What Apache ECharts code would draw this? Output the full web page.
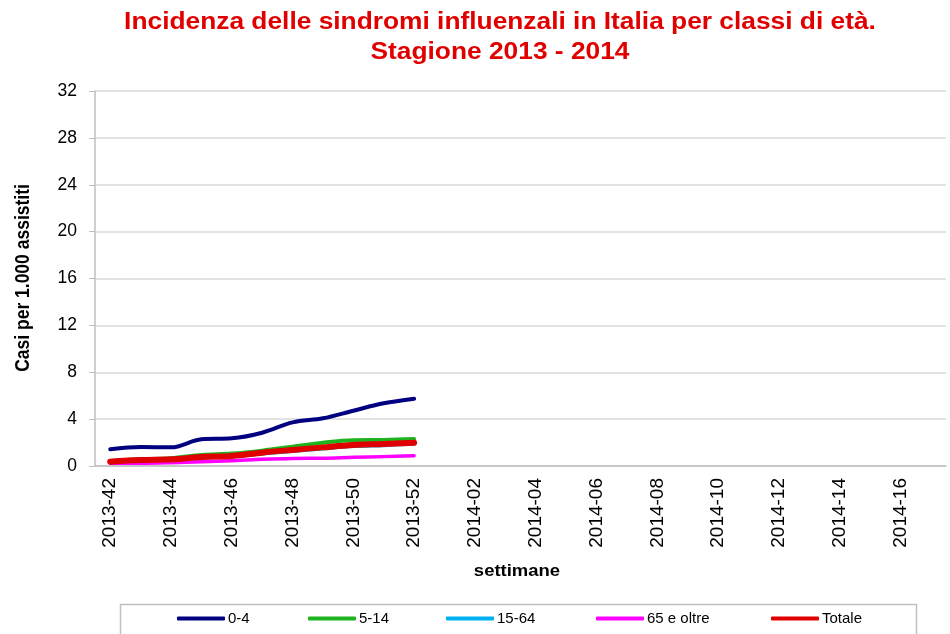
<!DOCTYPE html>
<html><head><meta charset="utf-8">
<script src="https://cdn.jsdelivr.net/npm/echarts@6/dist/echarts.min.js"></script>
<style>html,body{margin:0;padding:0;background:#fff}#c{width:950px;height:634px}</style>
</head><body><div id="c"></div>
<script>
var weeks = ['2013-42','2013-43','2013-44','2013-45','2013-46','2013-47','2013-48','2013-49','2013-50','2013-51','2013-52',
  '2014-01','2014-02','2014-03','2014-04','2014-05','2014-06','2014-07','2014-08','2014-09','2014-10',
  '2014-11','2014-12','2014-13','2014-14','2014-15','2014-16','2014-17'];
var s0_4 = [1.42, 1.62, 1.59, 2.28, 2.36, 2.84, 3.72, 4.07, 4.72, 5.35, 5.74];
var s5_14 = [0.43, 0.57, 0.66, 0.94, 1.06, 1.31, 1.65, 1.99, 2.20, 2.22, 2.30];
var s15_64 = [0.34, 0.47, 0.53, 0.70, 0.80, 1.06, 1.28, 1.50, 1.70, 1.78, 1.90];
var s65 = [0.23, 0.23, 0.28, 0.37, 0.45, 0.57, 0.65, 0.67, 0.74, 0.80, 0.88];
var sTot = [0.37, 0.51, 0.57, 0.76, 0.86, 1.14, 1.37, 1.59, 1.79, 1.88, 1.99];
var yTicks = [0, 4, 8, 12, 16, 20, 24, 28, 32];
var names = ['0-4','5-14','15-64','65 e oltre','Totale'];
var colors = ['#000080','#1fb41f','#00b0f0','#ff00ff','#e00000'];
var widths = [4, 4, 4, 3.5, 6];
var seriesData = [s0_4, s5_14, s15_64, s65, sTot];
var legendLeft = [177, 308, 446, 596, 771];

var FONT = '"Liberation Sans", Arial, sans-serif';
var SX = 1.12;
var chart = echarts.init(document.getElementById('c'), null, {renderer:'canvas'});
var series = names.map(function(n,i){
  return {name:n, type:'line', smooth:0.35, symbol:'none', data:seriesData[i],
    lineStyle:{color:colors[i], width:widths[i], cap:'round', join:'round'},
    itemStyle:{color:colors[i]}, z: 2+i};
});
var legends = names.map(function(n,i){
  return {data:[n], left:legendLeft[i], top:611, icon:'roundRect', itemWidth:48, itemHeight:4, itemGap:0,
    textStyle:{fontFamily:FONT, fontSize:15, color:'#000', padding:[0,0,0,-2]}, padding:0};
});
chart.setOption({
  animation:false,
  backgroundColor:'#fff',
  grid:{left:95, right:4, top:91, bottom:168, containLabel:false},
  legend: legends,
  xAxis:{type:'category', data:weeks, boundaryGap:true,
    axisLine:{lineStyle:{color:'#bfbfbf', width:1.5}},
    axisTick:{interval:0, length:6, lineStyle:{color:'#bfbfbf'}},
    axisLabel:{interval:1, rotate:90, fontFamily:FONT, fontSize:19, color:'#000', margin:12},
    splitLine:{show:false}},
  yAxis:{type:'value', min:yTicks[0], max:yTicks[yTicks.length-1], interval:4,
    axisLine:{show:true, lineStyle:{color:'#bfbfbf', width:1.5}},
    axisTick:{show:true, length:6, lineStyle:{color:'#bfbfbf'}},
    axisLabel:{fontFamily:FONT, fontSize:17.5, color:'#000', margin:18},
    splitLine:{lineStyle:{color:'#d9d9d9', width:1.5}}},
  series: series,
  graphic:[
    {type:'text', x:500, y:23, scaleX:SX, style:{text:'Incidenza delle sindromi influenzali in Italia per classi di età.', fill:'#e00000',
      font:'bold 23.5px '+FONT, align:'center', verticalAlign:'middle'}},
    {type:'text', x:500, y:53, scaleX:SX, style:{text:'Stagione 2013 - 2014', fill:'#e00000',
      font:'bold 23.5px '+FONT, align:'center', verticalAlign:'middle'}},
    {type:'text', x:24, y:278, rotation:Math.PI/2, scaleY:SX, style:{text:'Casi per 1.000 assistiti', fill:'#000',
      font:'bold 17.5px '+FONT, align:'center', verticalAlign:'middle'}},
    {type:'text', x:517, y:571, scaleX:SX, style:{text:'settimane', fill:'#000',
      font:'bold 16.5px '+FONT, align:'center', verticalAlign:'middle'}},
    {type:'rect', shape:{x:120.5, y:604.5, width:796, height:40}, style:{fill:'none', stroke:'#bfbfbf', lineWidth:1.5}, z:-1}
  ]
});
</script></body></html>
